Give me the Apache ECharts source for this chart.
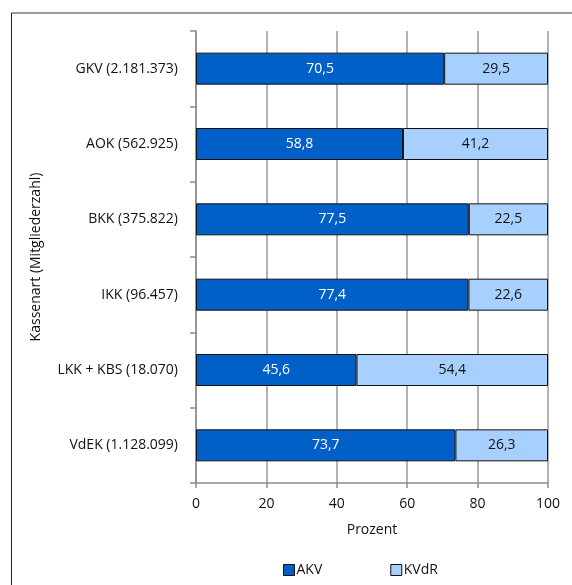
<!DOCTYPE html>
<html>
<head>
<meta charset="utf-8">
<script src="https://cdn.jsdelivr.net/npm/echarts@6/dist/echarts.min.js"></script>
<style>
  html, body { margin: 0; padding: 0; background: #fff; }
  #chart { width: 572px; height: 585px; }
</style>
</head>
<body>
<div id="chart"></div>
<script>
// Kassenarten, listed top to bottom
const categories = [
  'GKV (2.181.373)',
  'AOK (562.925)',
  'BKK (375.822)',
  'IKK (96.457)',
  'LKK + KBS (18.070)',
  'VdEK (1.128.099)'
];
// Shares in percent
const akv  = [70.5, 58.8, 77.5, 77.4, 45.6, 73.7];
const kvdr = [29.5, 41.2, 22.5, 22.6, 54.4, 26.3];
const seriesNames = ['AKV', 'KVdR'];
const xTicks = { min: 0, max: 100, interval: 20 };

const FONT = 'Open Sans';
const fmt = p => p.value.toFixed(1).replace('.', ',');

const chart = echarts.init(document.getElementById('chart'), null, { renderer: 'canvas' });
chart.setOption({
  animation: false,
  textStyle: { fontFamily: FONT },
  graphic: [
    { type: 'line', shape: { x1: 11, y1: 13, x2: 572, y2: 13 }, style: { stroke: '#7a7a7a', lineWidth: 1.5 } },
    { type: 'line', shape: { x1: 11.5, y1: 13, x2: 11.5, y2: 585 }, style: { stroke: '#222', lineWidth: 1 } }
  ],
  grid: { left: 196, right: 24, top: 31, bottom: 102, containLabel: false },
  legend: {
    data: seriesNames,
    top: 563,
    left: 283,
    padding: 0,
    itemGap: 68,
    itemWidth: 11,
    itemHeight: 11,
    icon: 'rect',
    textStyle: { fontFamily: FONT, fontSize: 14, color: '#111', padding: [0, 0, 0, -3] },
    itemStyle: { borderColor: '#111', borderWidth: 1 }
  },
  xAxis: {
    type: 'value',
    min: xTicks.min, max: xTicks.max, interval: xTicks.interval,
    name: 'Prozent',
    nameLocation: 'middle',
    nameGap: 40,
    nameTextStyle: { fontFamily: FONT, fontSize: 14, color: '#111' },
    axisLine: { show: true, lineStyle: { color: '#8c8c8c', width: 1.5 } },
    axisTick: { show: true, length: 5, lineStyle: { color: '#8c8c8c', width: 1.5 } },
    axisLabel: { fontFamily: FONT, fontSize: 14, color: '#111', margin: 14 },
    splitLine: { show: true, lineStyle: { color: '#9a9a9a', width: 1.5 } }
  },
  yAxis: {
    type: 'category',
    data: categories,
    inverse: true,
    name: 'Kassenart (Mitgliederzahl)',
    nameLocation: 'middle',
    nameGap: 153,
    nameRotate: 90,
    nameTextStyle: { fontFamily: FONT, fontSize: 14, color: '#111' },
    axisLine: { show: true, lineStyle: { color: '#8c8c8c', width: 1.5 } },
    axisTick: { show: true, length: 6, alignWithLabel: false, lineStyle: { color: '#8c8c8c', width: 1.5 } },
    axisLabel: { fontFamily: FONT, fontSize: 14, color: '#111', margin: 18 }
  },
  series: [
    {
      name: seriesNames[0], type: 'bar', stack: 'total', data: akv, barWidth: 32,
      itemStyle: { color: '#0060c8', borderColor: '#111', borderWidth: 1 },
      label: { show: true, position: 'inside', color: '#fff', fontFamily: FONT, fontSize: 14, formatter: fmt }
    },
    {
      name: seriesNames[1], type: 'bar', stack: 'total', data: kvdr, barWidth: 32,
      itemStyle: { color: '#a8d0ff', borderColor: '#111', borderWidth: 1 },
      label: { show: true, position: 'inside', color: '#111', fontFamily: FONT, fontSize: 14, formatter: fmt }
    }
  ]
});
</script>
</body>
</html>
